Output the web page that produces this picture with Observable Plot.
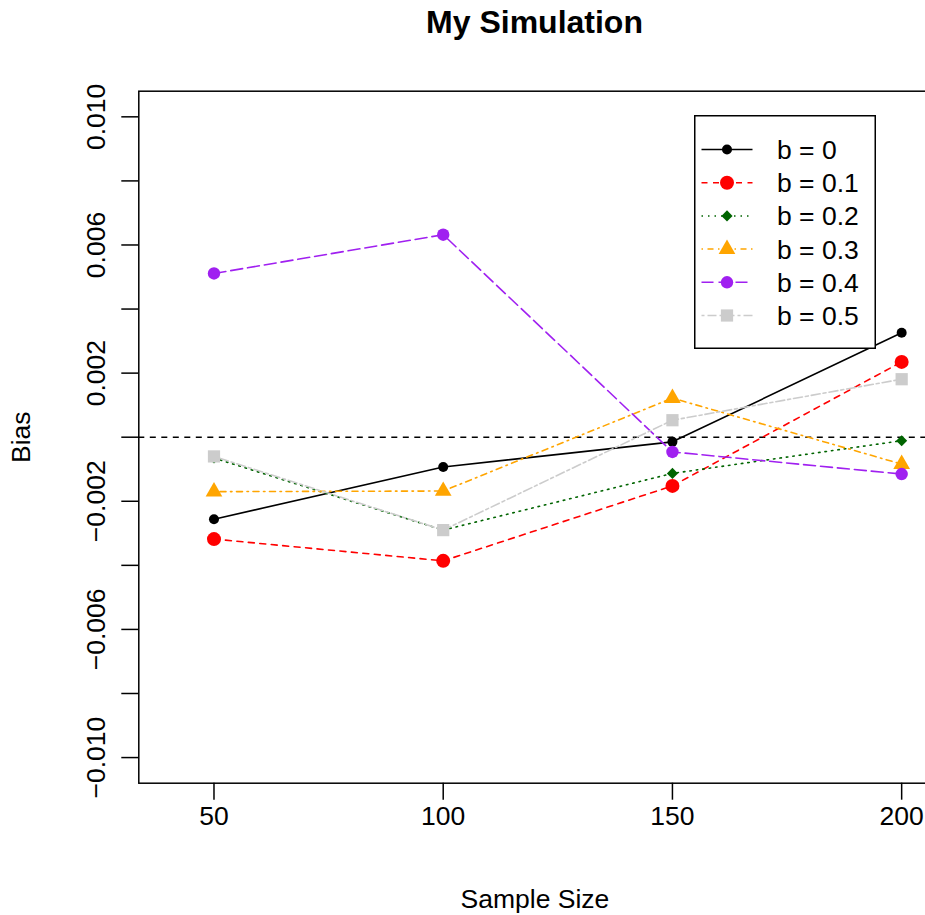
<!DOCTYPE html>
<html><head><meta charset="utf-8">
<script src="https://cdn.jsdelivr.net/npm/d3@7"></script>
<script src="https://cdn.jsdelivr.net/npm/@observablehq/plot@0.6"></script>
<style>
body{margin:0;background:#fff;font-family:"Liberation Sans",Arial,sans-serif;}
#wrap{position:relative;width:925px;height:915px;overflow:hidden;background:#fff;}
#chart{position:absolute;left:0;top:0;}
#title{position:absolute;left:0;width:1069px;top:6px;text-align:center;font-weight:bold;font-size:32px;line-height:32px;color:#000;}
#legend{position:absolute;left:694px;top:115px;}
</style></head><body>
<div id="wrap"><div id="chart"></div><div id="title">My Simulation</div><div id="legend"></div></div>
<script>
// ---- data ----
const sampleSizes = [50, 100, 150, 200];
const seriesNames = ["b = 0", "b = 0.1", "b = 0.2", "b = 0.3", "b = 0.4", "b = 0.5"];
const bias_b0  = [-0.00256, -0.00093, -0.000145, 0.00326];
const bias_b01 = [-0.00318, -0.00386, -0.00152, 0.00235];
const bias_b02 = [-0.00065, -0.00290, -0.00113, -0.00011];
const bias_b03 = [-0.00170, -0.00168, 0.00122, -0.00084];
const bias_b04 = [0.00511, 0.00632, -0.00046, -0.00115];
const bias_b05 = [-0.00060, -0.00290, 0.00053, 0.00181];
const yTicks = [-0.010, -0.008, -0.006, -0.004, -0.002, 0, 0.002, 0.004, 0.006, 0.008, 0.010];
const yTickLabels = ["\u22120.010", "", "\u22120.006", "", "\u22120.002", "", "0.002", "", "0.006", "", "0.010"];
const xTicks = [50, 100, 150, 200];

// ---- styles ----
const colors = ["#000000", "#FF0000", "#006400", "#FFA500", "#A020F0", "#CCCCCC"];
const dashes = ["none", "6,5.5", "1.5,5", "1.5,4.5,6,4.5", "12,5", "3,3,9,3"];
const symbols = ["circle", "circle", "diamond2", "triangle", "circle", "square"];
const radii = [5, 7, 5, 6.2, 6.2, 6.9];
const d3Symbols = {circle: d3.symbolCircle, diamond2: d3.symbolDiamond2, triangle: d3.symbolTriangle, square: d3.symbolSquare};

const seriesValues = [bias_b0, bias_b01, bias_b02, bias_b03, bias_b04, bias_b05];
const rows = seriesNames.flatMap((name, i) => sampleSizes.map((n, j) => ({name, n, bias: seriesValues[i][j]})));

const marks = [
  Plot.frame({stroke: "black", strokeWidth: 1.5}),
  Plot.ruleY([0], {stroke: "black", strokeWidth: 1.5, strokeDasharray: "6,5.5"})
];
seriesNames.forEach((name, i) => {
  const d = rows.filter(r => r.name === name);
  marks.push(Plot.line(d, {x: "n", y: "bias", stroke: colors[i], strokeWidth: 1.6, strokeDasharray: dashes[i]}));
  marks.push(Plot.dot(d, {x: "n", y: "bias", fill: colors[i], stroke: "none", r: radii[i], symbol: symbols[i]}));
});
marks.push(Plot.axisY({
  ticks: yTicks,
  tickFormat: d => yTickLabels[yTicks.findIndex(t => Math.abs(t - d) < 1e-9)],
  tickSize: 17, tickPadding: 17, tickRotate: -90,
  stroke: "black", strokeWidth: 1.5,
  label: "Bias", labelAnchor: "center", labelArrow: "none", labelOffset: 128
}));
marks.push(Plot.axisX({
  ticks: xTicks, tickFormat: d => String(d),
  tickSize: 17, tickPadding: 6,
  stroke: "black", strokeWidth: 1.5,
  label: "Sample Size", labelAnchor: "center", labelArrow: "none", labelOffset: 125
}));

const chart = Plot.plot({
  width: 925, height: 915,
  marginLeft: 138.3, marginRight: -5.5, marginTop: 90.7, marginBottom: 132.3,
  style: {fontFamily: "Liberation Sans, Arial, sans-serif", fontSize: "26.5px", color: "black", background: "white", overflow: "hidden"},
  x: {type: "linear", domain: [33.6, 206.4]},
  y: {type: "linear", domain: [-0.0108, 0.0108]},
  marks
});
document.getElementById("chart").appendChild(chart);

// ---- legend ----
const lw = 182, lh = 234, rowH = 33.2, row0 = 34.5;
const lg = d3.select("#legend").append("svg").attr("width", lw).attr("height", lh)
  .style("font-family", "Liberation Sans, Arial, sans-serif");
lg.append("rect").attr("x", 0.75).attr("y", 0.75).attr("width", lw - 1.5).attr("height", lh - 1.5)
  .attr("fill", "white").attr("stroke", "black").attr("stroke-width", 1.5);
seriesNames.forEach((name, i) => {
  const y = row0 + i * rowH;
  lg.append("line").attr("x1", 7.5).attr("x2", 58.5).attr("y1", y).attr("y2", y)
    .attr("stroke", colors[i]).attr("stroke-width", 1.5).attr("stroke-dasharray", dashes[i]);
  lg.append("path").attr("transform", `translate(33,${y})`)
    .attr("d", d3.symbol(d3Symbols[symbols[i]], Math.PI * radii[i] * radii[i])())
    .attr("fill", colors[i]);
  lg.append("text").attr("x", 83).attr("y", y).attr("dy", "0.36em")
    .attr("font-size", "26.5px").attr("fill", "black").text(name);
});
</script>
</body></html>
